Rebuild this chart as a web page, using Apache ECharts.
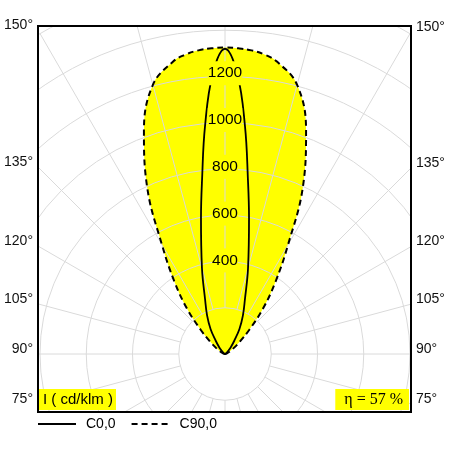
<!DOCTYPE html>
<html>
<head>
<meta charset="utf-8">
<script src="https://cdn.jsdelivr.net/npm/echarts@6/dist/echarts.min.js"></script>
<style>
  html, body { margin: 0; padding: 0; background: #fff; }
  #chart { width: 452px; height: 452px; }
</style>
</head>
<body>
<div id="chart"></div>
<script>
// gamma angle (deg, 180 = straight up) and intensity in cd/klm, same on both halves
const gammas = [180, 177.5, 175, 172.5, 170, 165, 160, 155, 150, 145, 140, 135, 130, 125, 120, 110, 100, 90]
const c0 = [1320, 1213, 990, 760, 598, 385, 252, 183, 125, 70, 40, 20, 10, 5, 3, 1, 0, 0]
const c90 = [1325, 1323, 1318, 1306, 1285, 1205, 1025, 797, 545, 380, 255, 150, 85, 50, 28, 10, 4, 0]
const ringLabels = [400, 600, 800, 1000, 1200]
const sideAngles = [150, 135, 120, 105, 90, 75]
const seriesNames = ['C0,0', 'C90,0']
const unitText = 'I ( cd/klm )'
const effText = 'η = 57 %'

const cx = 225
const cy = 354
const frame = {left: 38, top: 26, right: 411, bottom: 412}
const sans = '"Liberation Sans", Arial, sans-serif'
const serif = '"Liberation Serif", "Times New Roman", serif'
const gridColor = '#dadada'

// left half uses +gamma, right half -gamma (angle axis runs -180..180 clockwise from top)
function loop (vals) {
  const left = gammas.map((g, i) => [vals[i], g]).reverse()
  const right = gammas.map((g, i) => [vals[i], -g])
  return left.concat(right)
}

function sideLabels () {
  const out = []
  sideAngles.forEach(a => {
    const t = Math.tan((a - 90) * Math.PI / 180)
    out.push({
      type: 'text', z: 101, x: frame.left - 5, y: cy - (cx - frame.left) * t - 5,
      style: {text: a + '°', fontSize: 14, fontFamily: sans, fill: '#111', align: 'right', verticalAlign: 'middle'}
    })
    out.push({
      type: 'text', z: 101, x: frame.right + 5, y: cy - (frame.right - cx) * t - 5,
      style: {text: a + '°', fontSize: 14, fontFamily: sans, fill: '#111', align: 'left', verticalAlign: 'middle'}
    })
  })
  return out
}

const hidden = {axisLine: {show: false}, axisTick: {show: false}, axisLabel: {show: false}, splitLine: {show: false}}

const chart = echarts.init(document.getElementById('chart'))
chart.setOption({
  animation: false,
  polar: [
    {center: [cx, cy], radius: [46.25, 370]},  // grid
    {center: [cx, cy], radius: [0, 370]},      // curves
    {center: [cx, cy], radius: [46.8, 374.4]}  // ring labels
  ],
  angleAxis: [
    Object.assign({}, hidden, {
      polarIndex: 0, type: 'value', min: -180, max: 180, interval: 15,
      startAngle: 90, clockwise: true, z: 3,
      splitLine: {show: true, lineStyle: {color: gridColor, width: 1}}
    }),
    Object.assign({}, hidden, {polarIndex: 1, type: 'value', min: -180, max: 180, startAngle: 90, clockwise: true}),
    {polarIndex: 2, type: 'value', min: -180, max: 180, startAngle: 90, show: false}
  ],
  radiusAxis: [
    Object.assign({}, hidden, {
      polarIndex: 0, type: 'value', min: 200, max: 1600, interval: 200, z: 3,
      splitLine: {show: true, lineStyle: {color: gridColor, width: 1}}
    }),
    Object.assign({}, hidden, {polarIndex: 1, type: 'value', min: 0, max: 1600}),
    {
      polarIndex: 2, type: 'value', min: 200, max: 1600, interval: 200, z: 10,
      axisLine: {show: false}, axisTick: {show: false}, splitLine: {show: false},
      axisLabel: {
        customValues: ringLabels, margin: 0, align: 'center', verticalAlign: 'middle',
        formatter: v => String(v),
        color: '#000', fontSize: 15.5, fontFamily: sans,
        backgroundColor: '#ffff00', padding: [4, 0, 4, 0]
      }
    }
  ],
  title: [
    {
      text: unitText, left: frame.left, top: 389, padding: [2, 3, 2, 5],
      backgroundColor: '#ffff00', z: 20,
      textStyle: {fontSize: 15, fontWeight: 'normal', fontFamily: sans, color: '#000', lineHeight: 17}
    },
    {
      text: effText, right: 452 - frame.right + 2, top: 389, padding: [2, 6, 2, 9],
      backgroundColor: '#ffff00', z: 20,
      textStyle: {fontSize: 16, fontWeight: 'normal', fontFamily: serif, color: '#000', lineHeight: 17}
    }
  ],
  legend: {
    data: seriesNames, left: 37, top: 417, padding: 0, z: 200,
    itemWidth: 38, itemHeight: 14, itemGap: 15, selectedMode: false,
    itemStyle: {opacity: 0},
    textStyle: {fontSize: 14, fontFamily: sans, color: '#000', padding: [0, 0, 0, 5]}
  },
  graphic: {
    elements: [
      {type: 'rect', z: 100, shape: {x: 0, y: 0, width: 452, height: frame.top - 1}, style: {fill: '#fff'}},
      {type: 'rect', z: 100, shape: {x: 0, y: frame.bottom + 1, width: 452, height: 452 - frame.bottom}, style: {fill: '#fff'}},
      {type: 'rect', z: 100, shape: {x: 0, y: 0, width: frame.left - 1, height: 452}, style: {fill: '#fff'}},
      {type: 'rect', z: 100, shape: {x: frame.right + 1, y: 0, width: 452 - frame.right, height: 452}, style: {fill: '#fff'}},
      {
        type: 'rect', z: 101,
        shape: {x: frame.left, y: frame.top, width: frame.right - frame.left, height: frame.bottom - frame.top},
        style: {fill: 'none', stroke: '#000', lineWidth: 2}
      }
    ].concat(sideLabels())
  },
  series: [
    {
      name: 'fill', type: 'line', coordinateSystem: 'polar', polarIndex: 1,
      data: loop(c90), smooth: 0.4, symbol: 'none', clip: false, silent: true, z: 1,
      lineStyle: {width: 0, opacity: 0},
      areaStyle: {color: '#ffff00', opacity: 1, origin: 0}
    },
    {
      name: seriesNames[0], type: 'line', coordinateSystem: 'polar', polarIndex: 1,
      data: loop(c0), smooth: 0.4, symbol: 'none', clip: false, z: 5,
      itemStyle: {color: '#000'},
      lineStyle: {color: '#000', width: 1.8}
    },
    {
      name: seriesNames[1], type: 'line', coordinateSystem: 'polar', polarIndex: 1,
      data: loop(c90), smooth: 0.4, symbol: 'none', clip: false, z: 5,
      itemStyle: {color: '#000'},
      lineStyle: {color: '#000', width: 2, type: [6, 4]}
    }
  ]
})
</script>
</body>
</html>
